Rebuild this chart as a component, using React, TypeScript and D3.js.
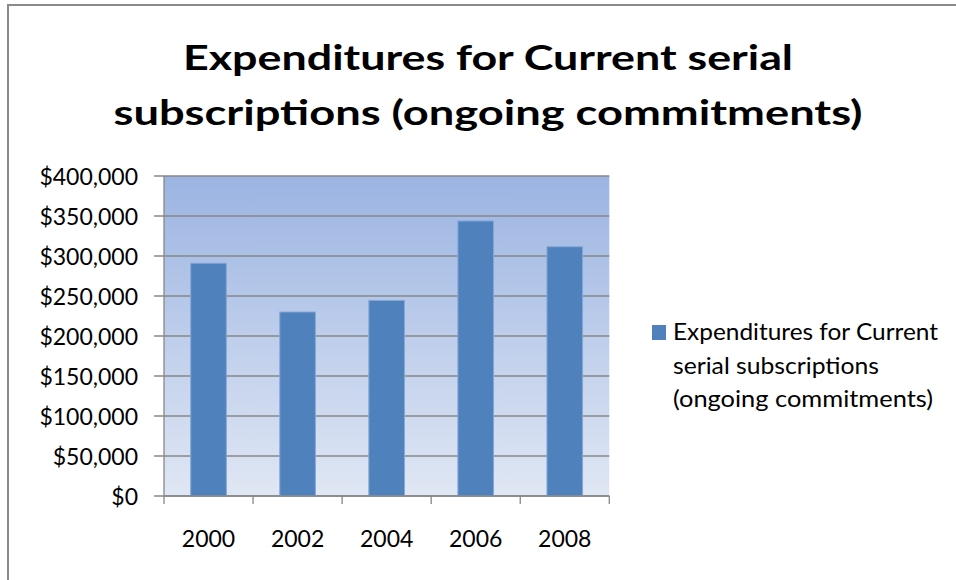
import React from "react";
import * as d3 from "d3";

const years = ["2000", "2002", "2004", "2006", "2008"];
const expenditures = [291000, 230000, 244500, 343800, 311600];
const yTicks = [0, 50000, 100000, 150000, 200000, 250000, 300000, 350000, 400000];
const titleLines = ["Expenditures for Current serial", "subscriptions (ongoing commitments)"];
const legendLines = ["Expenditures for Current", "serial subscriptions", "(ongoing commitments)"];

const W = 956;
const H = 580;
const plot = { left: 164, right: 609.3, top: 176, bottom: 496 };
const FONT = "Lato, 'Open Sans', sans-serif";

export default function App() {
  const x = d3
    .scaleBand<string>()
    .domain(years)
    .range([plot.left, plot.right])
    .paddingInner(0.6)
    .paddingOuter(0.3);
  const y = d3.scaleLinear().domain([0, 400000]).range([plot.bottom, plot.top]);
  const fmt = (v: number) => "$" + d3.format(",")(v);
  const step = (plot.right - plot.left) / years.length;
  const boundaries = d3.range(years.length + 1).map((i) => plot.left + i * step);

  const titleWidths = [610, 749];
  const titleBase = [70, 125];
  const legendWidths = [265, 206, 260];

  return (
    <svg
      width={W}
      height={H}
      style={{ position: "absolute", left: 0, top: 0, background: "#fff" }}
      fontFamily={FONT}
    >
      <defs>
        <linearGradient id="bg" x1="0" y1="0" x2="0" y2="1">
          <stop offset="0%" stopColor="#9bb4e2" />
          <stop offset="100%" stopColor="#e0e7f4" />
        </linearGradient>
      </defs>
      <rect x={0} y={0} width={W} height={H} fill="#fff" />
      {/* outer border */}
      <rect x={8} y={5} width={W + 20} height={H + 20} fill="none" stroke="#8a8a8a" strokeWidth={2} />

      {/* title */}
      {titleLines.map((t, i) => (
        <text
          key={t}
          x={488}
          y={titleBase[i]}
          textAnchor="middle"
          fontSize={35}
          fontWeight="bold"
          fill="#000"
          textLength={titleWidths[i]}
          lengthAdjust="spacingAndGlyphs"
        >
          {t}
        </text>
      ))}

      {/* plot background */}
      <rect
        x={plot.left}
        y={plot.top}
        width={plot.right - plot.left}
        height={plot.bottom - plot.top}
        fill="url(#bg)"
      />

      {/* gridlines */}
      {yTicks.map((v) => (
        <line
          key={"g" + v}
          x1={plot.left - 10}
          x2={plot.right}
          y1={y(v)}
          y2={y(v)}
          stroke="#878787"
          strokeWidth={1.3}
        />
      ))}

      {/* bars */}
      {years.map((yr, i) => (
        <rect
          key={yr}
          x={x(yr)}
          y={y(expenditures[i])}
          width={x.bandwidth()}
          height={plot.bottom - y(expenditures[i])}
          fill="#4f81bd"
          stroke="#86a8d6"
          strokeWidth={1}
        />
      ))}

      {/* axes */}
      <line x1={plot.left} x2={plot.left} y1={plot.top} y2={plot.bottom} stroke="#878787" strokeWidth={1.3} />
      <line x1={plot.left} x2={plot.right} y1={plot.bottom} y2={plot.bottom} stroke="#878787" strokeWidth={1.3} />
      {boundaries.map((bx, i) => (
        <line key={"t" + i} x1={bx} x2={bx} y1={plot.bottom} y2={plot.bottom + 8} stroke="#878787" strokeWidth={1.3} />
      ))}

      {/* y labels */}
      {yTicks.map((v) => (
        <text key={"l" + v} x={138} y={y(v) + 9} textAnchor="end" fontSize={23} fill="#000">
          {fmt(v)}
        </text>
      ))}

      {/* x labels */}
      {years.map((yr) => (
        <text
          key={"x" + yr}
          x={(x(yr) as number) + x.bandwidth() / 2}
          y={547}
          textAnchor="middle"
          fontSize={23}
          fill="#000"
        >
          {yr}
        </text>
      ))}

      {/* legend */}
      <rect x={652} y={325} width={14} height={15} fill="#4f81bd" />
      {legendLines.map((t, i) => (
        <text
          key={t}
          x={673}
          y={340 + i * 33.5}
          fontSize={23}
          fill="#000"
          textLength={legendWidths[i]}
          lengthAdjust="spacingAndGlyphs"
        >
          {t}
        </text>
      ))}
    </svg>
  );
}
